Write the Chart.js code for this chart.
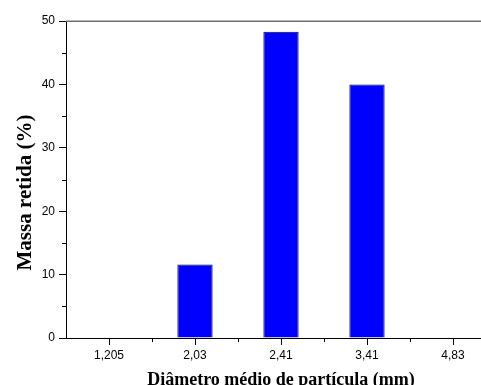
<!DOCTYPE html>
<html>
<head>
<meta charset="utf-8">
<script src="https://cdn.jsdelivr.net/npm/chart.js@4/dist/chart.umd.min.js"></script>
<style>
html,body{margin:0;padding:0;background:#fff;overflow:hidden;width:481px;height:385px;}
#wrap{position:absolute;left:0;top:0;width:500px;height:385px;}
</style>
</head>
<body>
<div id="wrap"><canvas id="c" width="500" height="385"></canvas></div>
<script>
// Data
const categories = ["1,205", "2,03", "2,41", "3,41", "4,83"];
const massaRetida = [0, 11.6, 48.3, 40.0, 0];
const yMinorTicks = [5, 15, 25, 35, 45];
const xMinorTicks = [0.5, 1.5, 2.5, 3.5];
const yTitle = 'Massa retida (%)';
const xTitle = 'Diâmetro médio de partícula (mm)';

const extras = {
  id: 'extras',
  afterDraw(chart) {
    const {ctx, chartArea, scales} = chart;
    ctx.save();
    // top frame line
    ctx.strokeStyle = '#707070';
    ctx.lineWidth = 1.5;
    ctx.beginPath();
    ctx.moveTo(chartArea.left, chartArea.top + 0.25);
    ctx.lineTo(chartArea.right, chartArea.top + 0.25);
    ctx.stroke();
    // minor ticks
    ctx.strokeStyle = '#000';
    ctx.lineWidth = 1;
    ctx.beginPath();
    yMinorTicks.forEach(v => {
      const y = Math.round(scales.y.getPixelForValue(v)) + 0.5;
      ctx.moveTo(chartArea.left - 4, y);
      ctx.lineTo(chartArea.left, y);
    });
    xMinorTicks.forEach(v => {
      const x = Math.round(scales.x.getPixelForValue(v)) + 0.5;
      ctx.moveTo(x, chartArea.bottom);
      ctx.lineTo(x, chartArea.bottom + 4);
    });
    ctx.stroke();
    // y axis title (placed slightly below the plot centre, as in the original)
    ctx.fillStyle = '#000';
    ctx.font = 'bold 21px "Liberation Serif", "Times New Roman", serif';
    ctx.textAlign = 'center';
    ctx.textBaseline = 'alphabetic';
    ctx.translate(31, (chartArea.top + chartArea.bottom) / 2 + 13);
    ctx.rotate(-Math.PI / 2);
    ctx.fillText(yTitle, 0, 0);
    ctx.restore();
  }
};

new Chart(document.getElementById('c'), {
  type: 'bar',
  data: {
    labels: categories,
    datasets: [{
      label: yTitle,
      data: massaRetida,
      backgroundColor: '#0000ff',
      borderColor: '#000040',
      borderWidth: 1,
      borderSkipped: 'bottom',
      categoryPercentage: 1,
      barPercentage: 0.41
    }]
  },
  options: {
    responsive: false,
    animation: false,
    devicePixelRatio: 1,
    layout: { padding: { top: 21, right: 4, left: 0, bottom: 0 } },
    plugins: { legend: { display: false }, tooltip: { enabled: false } },
    scales: {
      x: {
        offset: true,
        grid: { display: true, offset: false, drawOnChartArea: false, drawTicks: true, tickLength: 7, color: '#000' },
        border: { display: true, color: '#000', width: 1 },
        ticks: { color: '#000', padding: 3, font: { family: '"Liberation Sans", Arial, sans-serif', size: 12 }, maxRotation: 0, autoSkip: false },
        title: {
          display: true,
          text: xTitle,
          color: '#000',
          font: { family: '"Liberation Serif", "Times New Roman", serif', size: 18, weight: 'bold', lineHeight: 0.5 },
          padding: { top: 0, bottom: 0 }
        },
        afterFit(scale) { scale.height = 47; }
      },
      y: {
        min: 0,
        max: 50,
        ticks: { stepSize: 10, color: '#000', padding: 4, font: { family: '"Liberation Sans", Arial, sans-serif', size: 12 } },
        grid: { display: true, drawOnChartArea: false, drawTicks: true, tickLength: 7, color: '#000' },
        border: { display: true, color: '#000', width: 1 },
        title: { display: false, text: yTitle },
        afterFit(scale) { scale.width = 66; }
      }
    }
  },
  plugins: [extras]
});
</script>
</body>
</html>
